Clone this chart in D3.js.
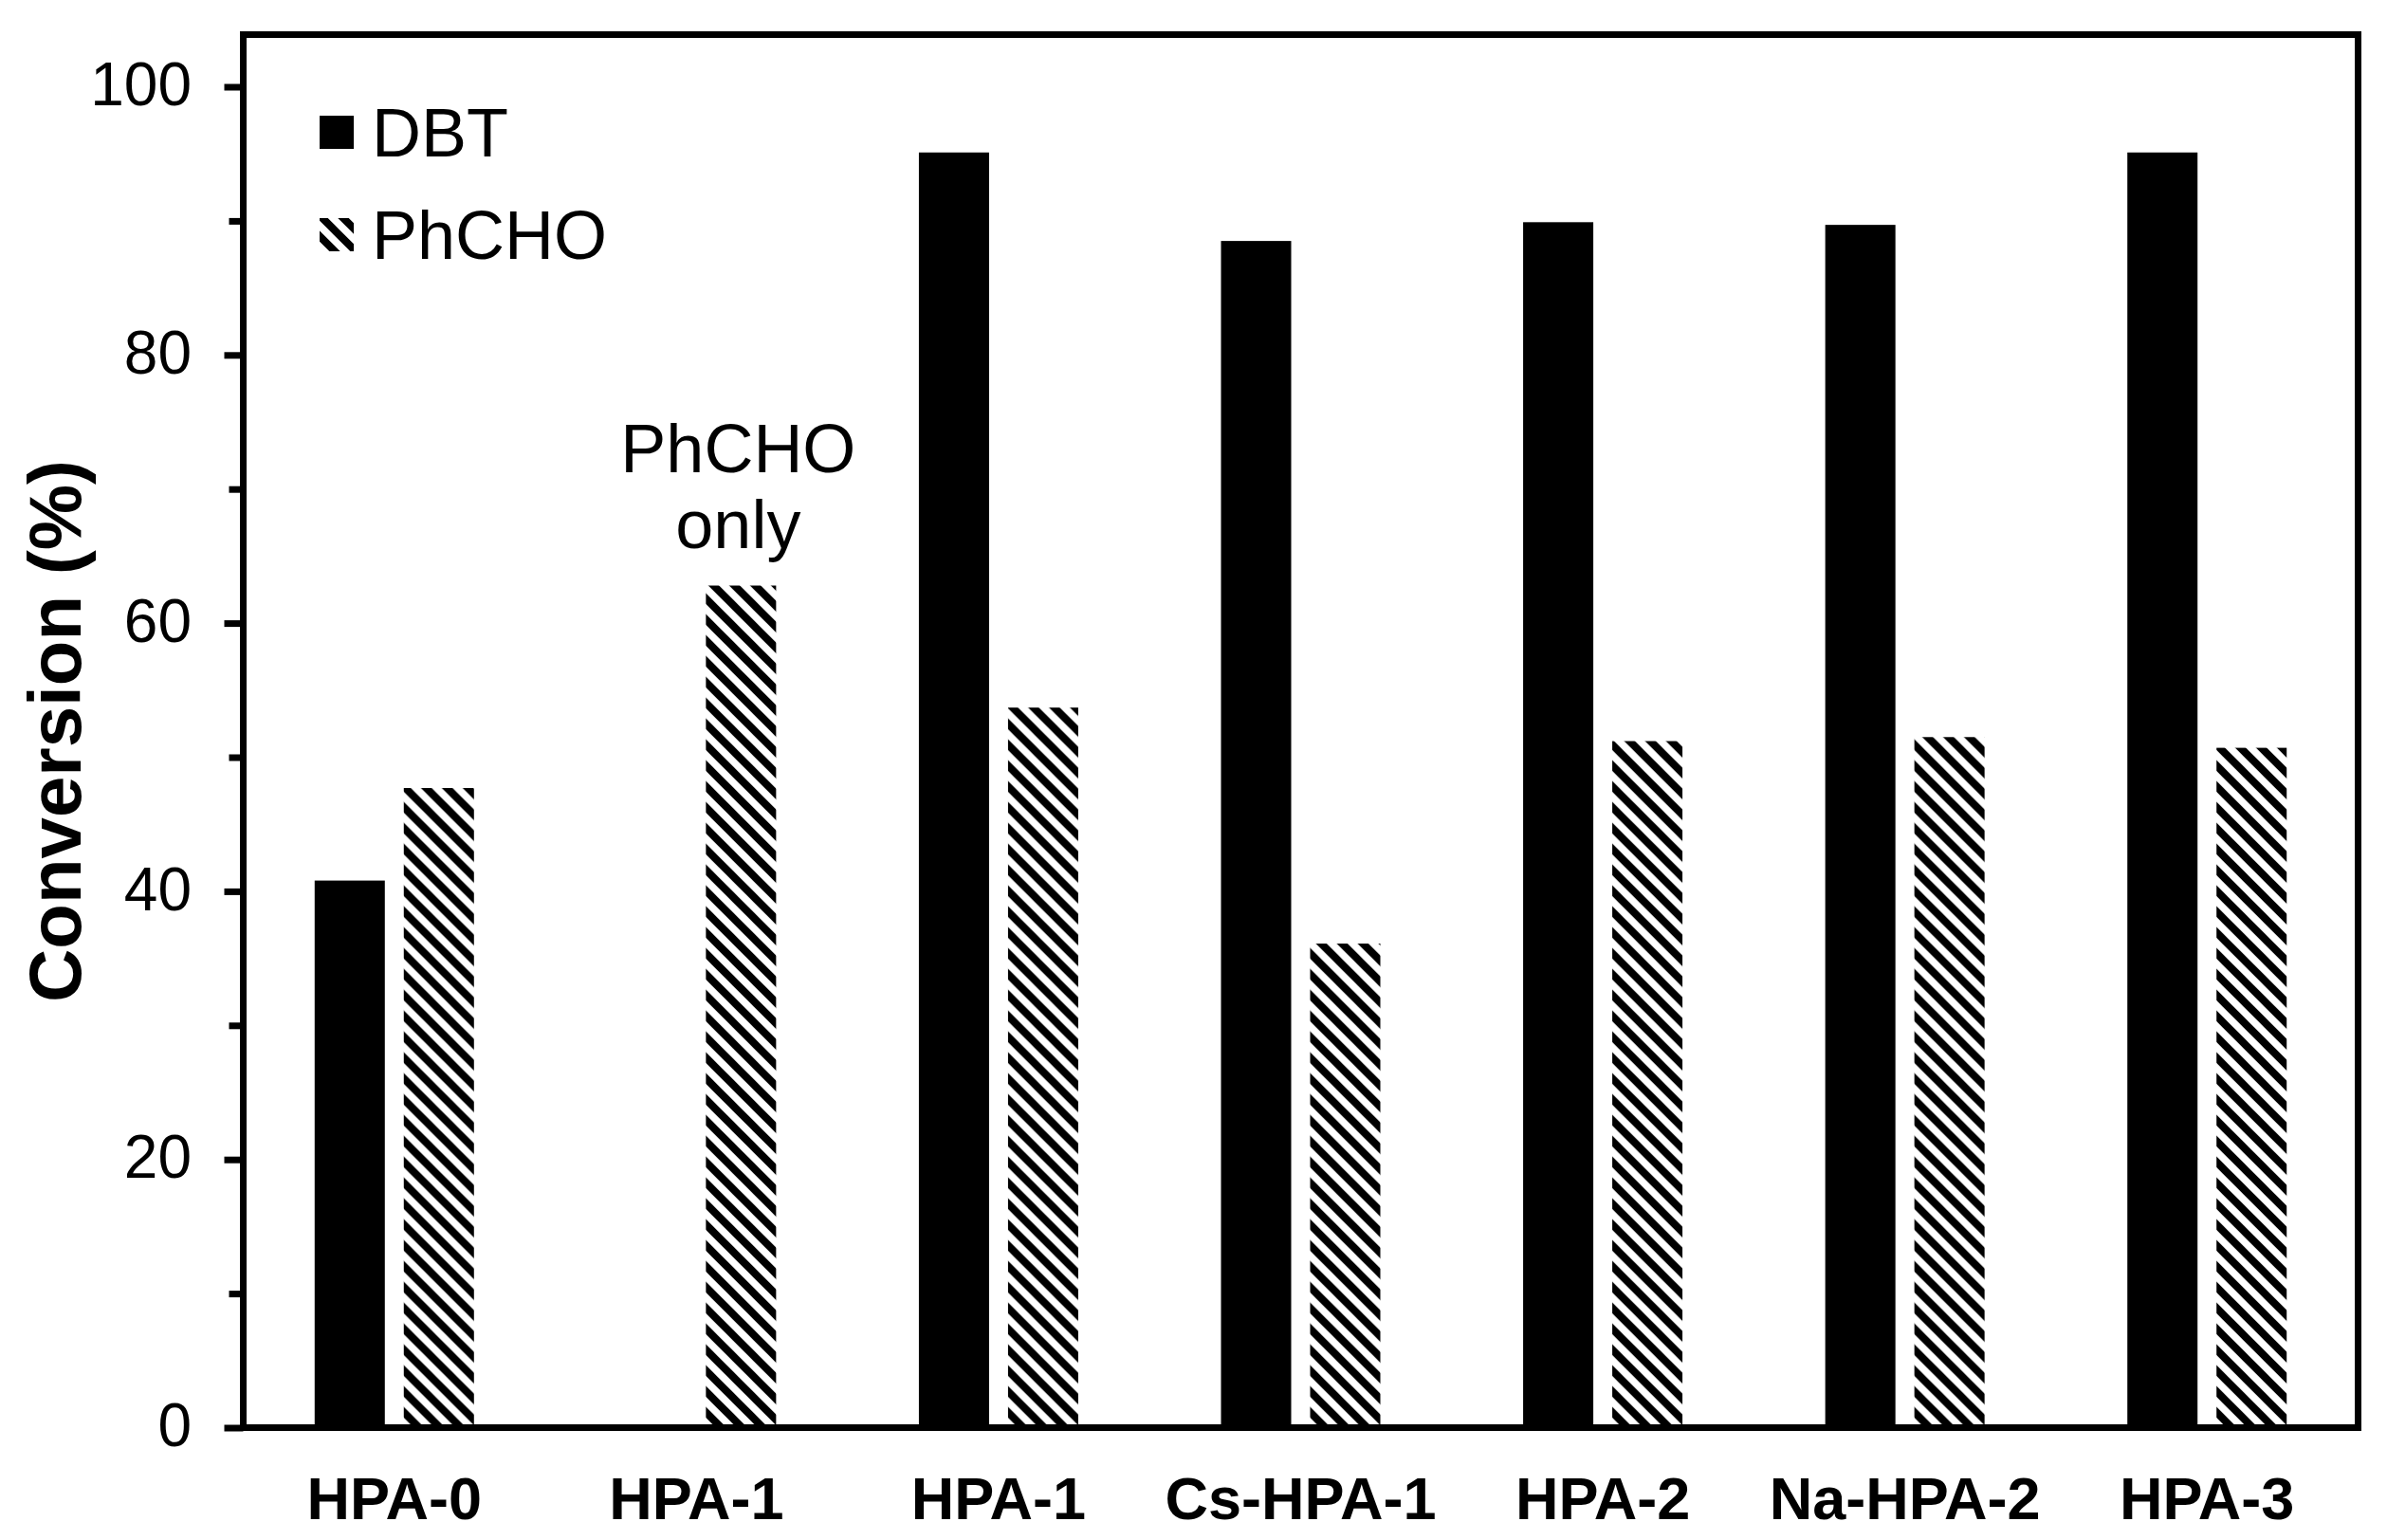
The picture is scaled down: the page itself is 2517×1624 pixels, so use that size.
<!DOCTYPE html>
<html>
<head>
<meta charset="utf-8">
<script src="https://cdn.jsdelivr.net/npm/d3@7"></script>
<style>
  html, body { margin: 0; padding: 0; background: #fff; }
  svg { display: block; }
  text { font-family: Arial, "Liberation Sans", sans-serif; fill: #000; }
</style>
</head>
<body>
<script>
// ---- Data ----
const categories = ["HPA-0", "HPA-1", "HPA-1", "Cs-HPA-1", "HPA-2", "Na-HPA-2", "HPA-3"];
const seriesNames = ["DBT", "PhCHO"];
const dbtValues   = [40.8, null, 95.1, 88.5, 89.9, 89.7, 95.1];
const phchoValues = [47.7, 62.8, 53.7, 36.1, 51.2, 51.5, 50.7];
const yMajorTicks = [0, 20, 40, 60, 80, 100];
const yMinorTicks = [10, 30, 50, 70, 90];
const yTitle = "Conversion (%)";
const annotationLines = ["PhCHO", "only"];
const annotationIndex = 1;

// ---- Layout ----
const W = 2517, H = 1624;
const plot = { left: 256.5, right: 2486.5, top: 36.5, bottom: 1505.5 };

const svg = d3.select("body").append("svg").attr("width", W).attr("height", H);

const defs = svg.append("defs");
const pat = defs.append("pattern")
  .attr("id", "hatch").attr("patternUnits", "userSpaceOnUse")
  .attr("width", 22).attr("height", 22);
pat.append("rect").attr("width", 22).attr("height", 22).attr("fill", "#fff");
pat.append("path")
  .attr("d", "M-5,-5L27,27M17,-5L27,5M-5,17L5,27")
  .attr("stroke", "#000").attr("stroke-width", 8).attr("fill", "none");

const x0 = d3.scaleBand().domain(d3.range(categories.length))
  .range([plot.left, plot.right]).paddingInner(0).paddingOuter(0);
const bw = x0.bandwidth();
const x1 = d3.scaleBand().domain(seriesNames)
  .range([bw / 2 - 84, bw / 2 + 84]).paddingInner(20 / 94).paddingOuter(0);
const y = d3.scaleLinear().domain([0, 100]).range([plot.bottom, 91.5]);

const data = categories.map((c, i) => ({ i, c, DBT: dbtValues[i], PhCHO: phchoValues[i] }));

// ---- Bars ----
const groups = svg.append("g").selectAll("g").data(data).join("g")
  .attr("transform", d => `translate(${x0(d.i)},0)`);
groups.selectAll("rect")
  .data(d => seriesNames.map(s => ({ s, v: d[s] })).filter(e => e.v != null))
  .join("rect")
  .attr("x", e => x1(e.s))
  .attr("width", x1.bandwidth())
  .attr("y", e => y(e.v))
  .attr("height", e => y(0) - y(e.v))
  .attr("fill", e => e.s === "DBT" ? "#000" : "url(#hatch)");

// ---- Frame ----
svg.append("rect")
  .attr("x", plot.left).attr("y", plot.top)
  .attr("width", plot.right - plot.left).attr("height", plot.bottom - plot.top)
  .attr("fill", "none").attr("stroke", "#000").attr("stroke-width", 7);

// ---- Y axis ----
const yAxis = svg.append("g").attr("transform", `translate(${plot.left},0)`)
  .call(d3.axisLeft(y).tickValues(yMajorTicks).tickSize(20).tickPadding(34.5).tickFormat(d3.format("d")));
yAxis.select(".domain").remove();
yAxis.selectAll(".tick line").attr("stroke", "#000").attr("stroke-width", 7);
yAxis.selectAll(".tick text")
  .style("font-size", "64px").style("font-family", "Arial, 'Liberation Sans', sans-serif")
  .attr("dy", "0.3em");

const yMinor = svg.append("g").attr("transform", `translate(${plot.left},0)`)
  .call(d3.axisLeft(y).tickValues(yMinorTicks).tickSize(15).tickFormat(""));
yMinor.select(".domain").remove();
yMinor.selectAll(".tick line").attr("stroke", "#000").attr("stroke-width", 7);

// ---- X labels ----
svg.append("g").selectAll("text").data(data).join("text")
  .attr("x", d => x0(d.i) + bw / 2)
  .attr("y", 1602)
  .attr("text-anchor", "middle")
  .style("font-size", "63px").style("font-weight", "bold")
  .text(d => d.c);

// ---- Y title ----
svg.append("text")
  .attr("transform", `translate(85,${(plot.top + plot.bottom) / 2}) rotate(-90)`)
  .attr("text-anchor", "middle")
  .style("font-size", "78px").style("font-weight", "bold")
  .text(yTitle);

// ---- Legend ----
const legend = svg.append("g");
const legendItems = [
  { name: seriesNames[0], fill: "#000", y: 122 },
  { name: seriesNames[1], fill: "url(#hatch)", y: 230 }
];
legendItems.forEach(it => {
  legend.append("rect").attr("x", 337).attr("y", it.y).attr("width", 36).attr("height", 35).attr("fill", it.fill);
  legend.append("text").attr("x", 392).attr("y", it.y + 43)
    .style("font-size", "72px").text(it.name);
});

// ---- Annotation ----
const ax = x0(annotationIndex) + x1("PhCHO") + x1.bandwidth() / 2 - 3;
const aTop = y(phchoValues[annotationIndex]);
svg.append("g").selectAll("text").data(annotationLines).join("text")
  .attr("x", ax)
  .attr("y", (d, k) => aTop - 40 - (annotationLines.length - 1 - k) * 80)
  .attr("text-anchor", "middle")
  .style("font-size", "72px")
  .text(d => d);
</script>
</body>
</html>
